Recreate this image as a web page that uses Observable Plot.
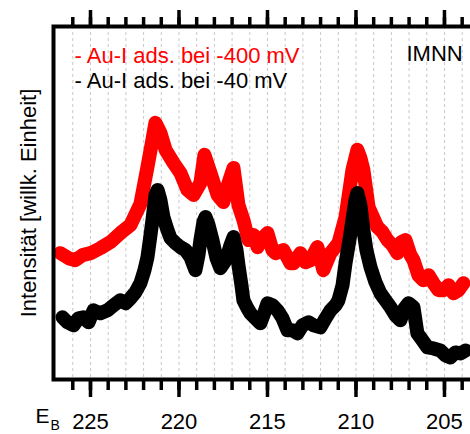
<!DOCTYPE html>
<html>
<head>
<meta charset="utf-8">
<script src="https://cdn.jsdelivr.net/npm/d3@7"></script>
<script src="https://cdn.jsdelivr.net/npm/@observablehq/plot@0.6"></script>
<style>
  html, body { margin: 0; padding: 0; background: white; overflow: hidden; }
</style>
</head>
<body>
<div id="chart"></div>
<script>
// Binding energy (eV) and intensity (arb. units)
const energyRed = [226.70,226.24,225.85,225.45,225.00,224.44,223.87,223.31,222.74,222.18,
  221.78,221.50,221.33,221.05,220.76,220.31,219.92,219.52,219.18,218.79,
  218.56,218.22,217.82,217.49,217.20,216.92,216.64,216.36,216.07,215.79,
  215.56,215.28,215.00,214.72,214.55,214.10,213.70,213.53,213.14,212.85,
  212.57,212.18,211.84,211.44,210.99,210.59,210.20,209.92,209.75,209.58,
  209.29,208.79,208.50,208.22,207.94,207.66,207.43,207.20,206.92,206.75,
  206.47,206.19,205.90,205.62,205.34,205.06,204.77,204.49,204.21,203.93];
const intensityRed = [126,121,119,124,126,131,137,146,154,175,
  212,239,256,246,229,216,206,189,184,196,
  224,206,184,177,196,211,174,159,139,144,
  132,141,146,129,126,129,116,116,126,117,
  119,132,109,126,136,162,209,229,221,209,
  172,152,147,139,134,126,137,139,124,119,
  104,99,104,96,89,89,94,86,89,96];

const energyBlack = [226.58,226.30,225.96,225.68,225.40,225.11,224.83,224.44,224.04,223.70,
  223.31,223.02,222.74,222.46,222.18,221.95,221.78,221.61,221.50,221.33,
  221.21,221.05,220.88,220.65,220.48,220.20,219.92,219.63,219.35,219.07,
  218.90,218.79,218.62,218.50,218.33,218.11,217.88,217.66,217.43,217.26,
  217.09,216.92,216.75,216.64,216.47,216.36,216.13,215.96,215.68,215.40,
  215.17,215.00,214.72,214.44,214.15,213.87,213.59,213.31,213.02,212.68,
  212.40,212.01,211.72,211.44,211.16,210.99,210.76,210.59,210.37,210.20,
  210.03,209.92,209.75,209.58,209.41,209.18,208.90,208.62,208.33,208.05,
  207.77,207.49,207.26,207.03,206.75,206.53,206.24,205.96,205.62,205.23,
  204.94,204.66,204.38,204.10,203.81];
const intensityBlack = [62,57,54,61,62,57,69,66,69,74,
  79,76,81,87,96,109,122,144,159,184,
  189,179,162,149,141,136,132,129,122,109,
  124,139,157,162,154,139,121,111,117,124,
  134,142,129,114,94,79,71,66,61,56,
  67,76,74,69,61,49,49,46,54,57,
  54,52,61,69,74,79,94,116,139,159,
  179,186,174,149,129,112,97,86,79,72,
  64,59,71,76,72,46,39,32,31,29,
  24,22,27,26,29];

const minorTicks = [204,205,206,207,208,209,210,211,212,213,214,215,216,217,218,219,220,221,222,223,224,225,226];
const majorTicks = [205,210,215,220,225];
const seriesLabels = ["- Au-I ads. bei -400 mV", "- Au-I ads. bei -40 mV"];
const seriesColors = ["#ff0000", "#000000"];
const yLabel = "Intensität [willk. Einheit]";
const xLabelMain = "E";
const xLabelSub = "B";
const tagText = "IMNN";

const red = energyRed.map((e, i) => ({e, v: intensityRed[i]}));
const black = energyBlack.map((e, i) => ({e, v: intensityBlack[i]}));

const font = "'Liberation Sans', Arial, Helvetica, sans-serif";

const chart = Plot.plot({
  width: 470,
  height: 434,
  marginLeft: 53,
  marginRight: -3,
  marginTop: 26,
  marginBottom: 55,
  x: {domain: [227.09, 203.36]},
  y: {domain: [0, 352], axis: null},
  style: {fontFamily: font, fontSize: "22px", background: "white", overflow: "hidden", color: "black"},
  marks: [
    Plot.gridX(minorTicks, {stroke: "#c8c8c8", strokeOpacity: 1, strokeWidth: 1, strokeDasharray: "3,3"}),
    Plot.line(red, {x: "e", y: "v", stroke: seriesColors[0], strokeWidth: 14, strokeLinejoin: "round", strokeLinecap: "round"}),
    Plot.line(black, {x: "e", y: "v", stroke: seriesColors[1], strokeWidth: 14, strokeLinejoin: "round", strokeLinecap: "round"}),
    Plot.frame({stroke: "black", strokeWidth: 4}),
    Plot.axisX(minorTicks, {anchor: "bottom", tickSize: 11, strokeWidth: 3.5, fill: "none", label: null}),
    Plot.axisX(majorTicks, {anchor: "bottom", tickSize: 18, strokeWidth: 3.5, fill: "none", label: null}),
    Plot.axisX(minorTicks, {anchor: "top", tickSize: 10, strokeWidth: 3.5, fill: "none", label: null}),
    Plot.axisX(majorTicks, {anchor: "top", tickSize: 17, strokeWidth: 3.5, fill: "none", label: null}),
    Plot.axisX(majorTicks, {anchor: "bottom", tickSize: 0, tickPadding: 34, label: null, fontSize: 22, tickFormat: d => String(d)}),
    Plot.text([seriesLabels[0]], {frameAnchor: "top-left", dx: 21, dy: 20.5, lineAnchor: "top", textAnchor: "start", fill: seriesColors[0], fontSize: 22}),
    Plot.text([seriesLabels[1]], {frameAnchor: "top-left", dx: 21, dy: 45.5, lineAnchor: "top", textAnchor: "start", fill: seriesColors[1], fontSize: 22}),
    Plot.text([tagText], {frameAnchor: "top-left", dx: 353, dy: 18.5, lineAnchor: "top", textAnchor: "start", fill: "black", fontSize: 22}),
    Plot.text([yLabel], {frameAnchor: "left", dx: -25, rotate: -90, lineAnchor: "middle", textAnchor: "middle", fill: "black", fontSize: 22}),
    Plot.text([xLabelMain], {frameAnchor: "bottom-left", dx: -18, dy: 29, lineAnchor: "top", textAnchor: "start", fill: "black", fontSize: 21}),
    Plot.text([xLabelSub], {frameAnchor: "bottom-left", dx: -3, dy: 41, lineAnchor: "top", textAnchor: "start", fill: "black", fontSize: 14})
  ]
});
document.getElementById("chart").appendChild(chart);
</script>
</body>
</html>
